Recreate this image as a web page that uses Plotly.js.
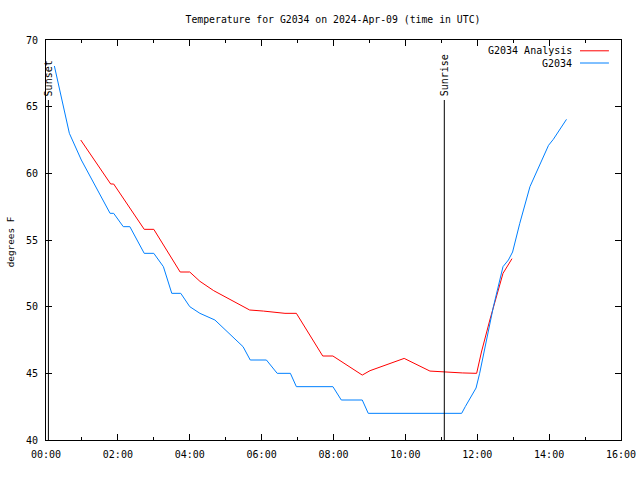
<!DOCTYPE html>
<html>
<head>
<meta charset="utf-8">
<script src="https://cdn.plot.ly/plotly-3.0.1.min.js"></script>
<style>html,body{margin:0;padding:0;background:#fff;}#chart{width:640px;height:480px;}</style>
</head>
<body>
<div id="chart"></div>
<script>
var day = "2024-04-09";

var obsTimes = ["00:14","00:39","00:59","01:47","01:53","02:09","02:20","02:44","03:00","03:16","03:30","03:45","04:00","04:17","04:42","05:29","05:41","06:08","06:26","06:48","06:58","07:59","08:13","08:48","08:58","11:34","11:40","11:58","12:04","12:16","12:27","12:43","12:52","12:59","13:11","13:28","13:59","14:07","14:29"];
var obsTemps = [68.05,63.0,61.0,57.0,57.0,56.0,56.0,54.0,54.0,53.0,51.0,51.0,50.0,49.5,49.0,47.0,46.0,46.0,45.0,45.0,44.0,44.0,43.0,43.0,42.0,42.0,42.5,43.9,45.0,47.5,50.0,53.0,53.5,54.1,56.25,59.0,62.1,62.55,64.05];

var anaTimes = ["00:58","01:48","01:53","02:44","03:00","03:44","04:00","04:17","04:40","05:40","06:03","06:20","06:39","06:58","07:42","07:59","08:48","09:01","09:58","10:41","11:06","11:35","11:59","12:07","12:21","12:43","12:58"];
var anaTemps = [62.5,59.2,59.2,55.8,55.8,52.6,52.6,51.9,51.2,49.75,49.67,49.6,49.5,49.5,46.3,46.3,44.87,45.2,46.12,45.17,45.08,45.03,45.0,46.6,49.0,52.5,53.6];

var sunsetTime = "00:04";
var sunriseTime = "11:05";
var markerTop = 65.5;

var seriesNames = ["G2034 Analysis", "G2034"];
var seriesColors = ["#ff0000", "#0080ff"];

function toDate(t){ return day + " " + t; }

var mono = "DejaVu Sans Mono, monospace";

var traces = [
  {x: anaTimes.map(toDate), y: anaTemps, type: "scatter", mode: "lines", name: seriesNames[0],
   line: {color: seriesColors[0], width: 1}, showlegend: false},
  {x: obsTimes.map(toDate), y: obsTemps, type: "scatter", mode: "lines", name: seriesNames[1],
   line: {color: seriesColors[1], width: 1}, showlegend: false}
];

var shapes = [
  {type: "line", xref: "x", yref: "y", x0: toDate(sunsetTime), x1: toDate(sunsetTime), y0: 40, y1: markerTop, line: {color: "#000", width: 1}},
  {type: "line", xref: "x", yref: "y", x0: toDate(sunriseTime), x1: toDate(sunriseTime), y0: 40, y1: markerTop, line: {color: "#000", width: 1}}
];
var annotations = [
  {xref: "x", yref: "y", x: toDate(sunsetTime), y: markerTop, text: "Sunset", textangle: -90, showarrow: false, xanchor: "center", yanchor: "bottom", yshift: 2, font: {family: mono, size: 10, color: "#000"}},
  {xref: "x", yref: "y", x: toDate(sunriseTime), y: markerTop, text: "Sunrise", textangle: -90, showarrow: false, xanchor: "center", yanchor: "bottom", yshift: 2, font: {family: mono, size: 10, color: "#000"}},
  {xref: "paper", yref: "paper", x: -0.062, y: 0.495, text: "degrees F", textangle: -90, showarrow: false, xanchor: "center", yanchor: "middle", font: {family: mono, size: 9.4, color: "#000"}}
];

// manual gnuplot-style legend (text left of sample line)
var legendY = [0.973, 0.9425];
for (var i = 0; i < seriesNames.length; i++) {
  annotations.push({xref: "paper", yref: "paper", x: 0.918, y: legendY[i], text: seriesNames[i], showarrow: false, xanchor: "right", yanchor: "middle", font: {family: mono, size: 10, color: "#000"}});
  shapes.push({type: "line", xref: "paper", yref: "paper", x0: 0.9287, x1: 0.979, y0: legendY[i], y1: legendY[i], line: {color: seriesColors[i], width: 1}});
}

var layout = {
  width: 640, height: 480,
  margin: {l: 46, r: 19, t: 40, b: 40},
  paper_bgcolor: "#fff", plot_bgcolor: "#fff",
  font: {family: mono, size: 10, color: "#000"},
  title: {text: "Temperature for G2034 on 2024-Apr-09 (time in UTC)", font: {family: mono, size: 9.8, color: "#000"}, x: 333/640, xref: "container", xanchor: "center", y: 1 - 20/480, yanchor: "middle"},
  xaxis: {
    type: "date", range: [toDate("00:00"), toDate("16:00")],
    tickformat: "%H:%M", dtick: 7200000, tick0: toDate("00:00"),
    ticks: "inside", ticklen: 6, tickcolor: "#000", ticklabelstandoff: 5,
    minor: {dtick: 3600000, ticks: "inside", ticklen: 3, tickcolor: "#000", showgrid: false},
    showline: true, linecolor: "#000", linewidth: 1, mirror: "ticks",
    showgrid: false, zeroline: false, fixedrange: true
  },
  yaxis: {
    range: [40, 70], dtick: 5, tick0: 40,
    ticks: "inside", ticklen: 6, tickcolor: "#000", ticklabelstandoff: 5,
    showline: true, linecolor: "#000", linewidth: 1, mirror: "ticks",
    showgrid: false, zeroline: false, fixedrange: true
  },
  shapes: shapes,
  annotations: annotations,
  showlegend: false
};

Plotly.newPlot("chart", traces, layout, {displayModeBar: false, staticPlot: true});
</script>
</body>
</html>
